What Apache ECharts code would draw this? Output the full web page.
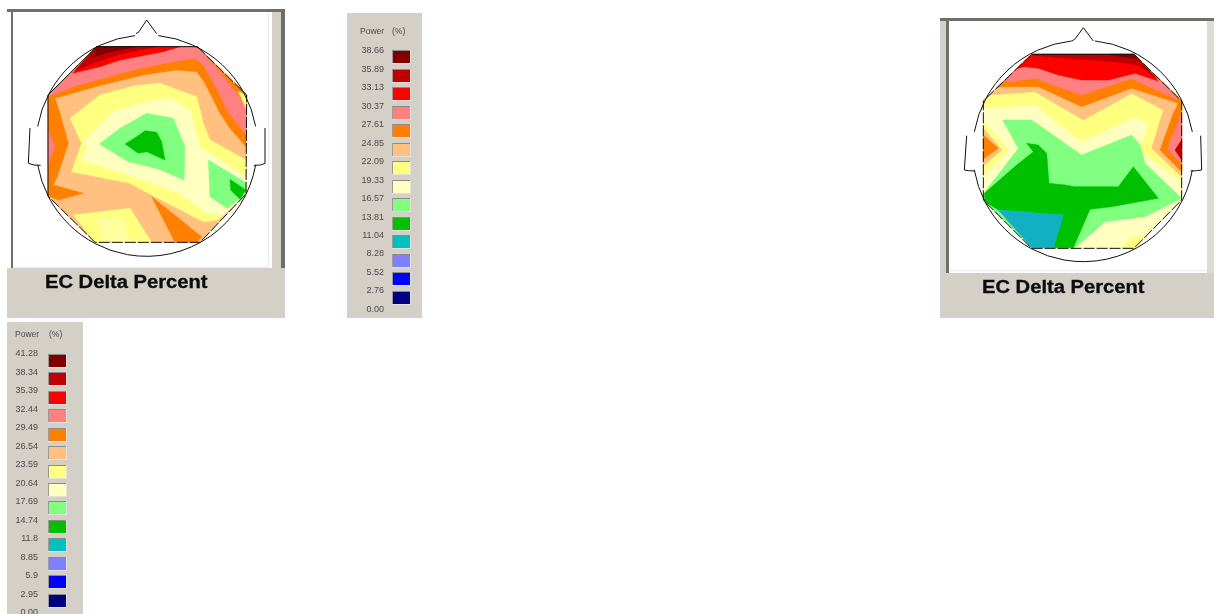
<!DOCTYPE html>
<html><head><meta charset="utf-8">
<style>html,body{margin:0;padding:0;background:#fff}#c{width:1214px;height:614px;filter:blur(0.45px)}</style>
<script src="https://cdn.jsdelivr.net/npm/echarts@6/dist/echarts.min.js"></script>
</head><body><div id="c"></div>
<script>
// ---- Scale colours and tick labels ----
const scaleColors = ['#800000','#c00000','#ff0000','#ff8080','#ff8000','#ffc080','#ffff80','#ffffc0','#80ff80','#00c000','#00c0c0','#8080ff','#0000ff','#000080'];
const ticksA = ['38.66','35.89','33.13','30.37','27.61','24.85','22.09','19.33','16.57','13.81','11.04','8.28','5.52','2.76','0.00'];
const ticksB = ['41.28','38.34','35.39','32.44','29.49','26.54','23.59','20.64','17.69','14.74','11.8','8.85','5.9','2.95','0.00'];
const mapTitle = 'EC Delta Percent';

// ---- Left map contours (map units) ----
const aOctagon = [[290,140],[592,140],[740,285],[738,582],[600,727],[285,727],[144,588],[144,285]];
const aOrange = [[144,285],[290,140],[592,140],[740,285],[738,440],[690,385],[660,340],[615,250],[590,215],[530,210],[430,225],[305,255],[165,295],[180,340],[205,430],[172,530],[144,530]];
const aSalmon = [[144,285],[290,140],[592,140],[650,205],[715,285],[738,325],[738,405],[680,330],[660,285],[610,195],[585,175],[520,185],[420,205],[310,235],[220,260],[150,288]];
const aSalmonLeft = [[144,390],[165,440],[144,492]];
const aCorner = [[715,275],[740,285],[738,325]];
const aRed = [[290,140],[540,140],[490,155],[360,180],[300,200],[218,220]];
const aDarkRed = [[290,140],[470,140],[370,160],[290,185],[225,212]];
const aMaroon = [[292,140],[410,140],[330,155],[280,170]];
const aYellow = [[210,355],[300,285],[400,258],[480,250],[590,290],[610,370],[630,420],[738,480],[738,582],[655,660],[610,665],[455,585],[390,550],[215,515],[245,430]];
const aPale = [[250,425],[340,335],[440,305],[510,295],[570,330],[600,440],[738,530],[738,582],[668,645],[620,640],[540,580],[460,550],[370,520],[245,480],[262,445]];
const aGreen = [[298,432],[360,385],[440,340],[520,355],[555,440],[552,540],[470,505],[385,485]];
const aDkGreen = [[375,432],[410,410],[435,392],[470,397],[485,425],[495,480],[440,455],[415,460]];
const aGreen2 = [[625,480],[738,548],[738,582],[682,625],[630,590]];
const aDkGreen2 = [[690,538],[737,570],[720,598],[692,570]];
const aYellowLow = [[220,645],[390,625],[455,727],[285,727]];
const aPaleLow = [[290,655],[365,652],[390,725],[310,725]];
const aOrangeLow = [[455,590],[605,710],[592,727],[525,727]];
const aOrangeLeft = [[144,530],[172,530],[160,555],[250,580],[175,600],[144,588]];
const aHead = {c:[440,437], r:332};
const aNose = [[408,101],[417,95],[440,60],[470,101]];
const aEarL = [[90,384],[85,490],[102,495],[122,496]];
const aEarR = [[795,384],[795,490],[782,495],[762,496]];
const aSolid = [[144,588],[144,285],[290,140],[592,140]];
const aDashed = [[592,140],[740,285],[738,582],[600,727],[285,727],[144,588]];

// ---- Right map contours (map units) ----
const bOctagon = [[305,148],[612,148],[755,288],[755,585],[612,730],[305,730],[160,585],[160,288]];
const bYellowLeft = [[160,350],[235,435],[160,512]];
const bPeachLeft = [[160,370],[215,435],[160,482]];
const bOrangeLeft = [[160,390],[205,430],[160,462]];
const bYellow = [[160,288],[305,148],[612,148],[755,288],[755,525],[630,440],[655,355],[615,335],[455,410],[315,300],[165,310]];
const bPeach = [[160,288],[305,148],[612,148],[755,288],[755,515],[665,430],[700,315],[605,265],[460,345],[315,260],[175,270]];
const bOrange = [[198,250],[305,148],[612,148],[755,288],[755,500],[690,435],[730,325],[745,295],[605,250],[455,305],[325,245],[210,245]];
const bSalmon = [[225,225],[305,148],[612,148],[745,285],[605,220],[455,270],[315,220],[240,230]];
const bSalmonRight = [[755,325],[712,432],[755,478]];
const bRed = [[262,190],[305,148],[612,148],[685,228],[615,205],[535,225],[455,225],[385,210],[325,190],[285,185]];
const bRedRight = [[755,405],[735,435],[755,465]];
const bDarkRed = [[305,148],[612,148],[680,220],[625,180],[555,170],[435,162],[315,152]];
const bMaroon = [[540,148],[612,148],[622,160],[590,158]];
const bYellowLow = [[575,730],[612,730],[645,695],[605,695]];
const bGreen = [[218,345],[305,345],[455,450],[605,390],[630,420],[645,475],[755,580],[645,635],[525,650],[435,728],[305,728],[160,585],[165,560],[265,430]];
const bDkGreen = [[290,415],[325,420],[350,445],[357,535],[405,540],[435,545],[565,545],[610,485],[685,580],[545,605],[480,613],[430,728],[370,728],[400,630],[205,615],[165,590],[163,565],[260,480],[310,440]];
const bTeal = [[205,615],[400,630],[370,728],[305,728]];
const bHead = {c:[460,438], r:332};
const bNose = [[426,108],[436,101],[460,68],[490,108]];
const bEarL = [[110,392],[103,495],[115,497],[135,498]];
const bEarR = [[812,392],[815,495],[800,497],[782,498]];
const bDashed = [[612,148],[755,288],[755,585],[612,730],[305,730],[160,585],[160,288],[305,148]];
const bSolid = [[305,148],[612,148]];

const headArcs = [[-84,-10],[10,170],[190,264]];
const C = {maroon:scaleColors[0],dred:scaleColors[1],red:scaleColors[2],salmon:scaleColors[3],orange:scaleColors[4],peach:scaleColors[5],yellow:scaleColors[6],pale:scaleColors[7],green:scaleColors[8],dkgreen:scaleColors[9],teal:'#12b0c2'};

const aLayers = [[C.peach,aOctagon],[C.orange,aOrange],[C.salmon,aSalmon],[C.salmon,aSalmonLeft],[C.yellow,aCorner],[C.red,aRed],[C.dred,aDarkRed],[C.maroon,aMaroon],
 [C.yellow,aYellow],[C.pale,aPale],[C.green,aGreen],[C.dkgreen,aDkGreen],[C.green,aGreen2],[C.dkgreen,aDkGreen2],[C.yellow,aYellowLow],['#ffffa0',aPaleLow],[C.orange,aOrangeLow],[C.orange,aOrangeLeft]];
const bLayers = [[C.pale,bOctagon],[C.yellow,bYellowLow],[C.yellow,bYellowLeft],[C.peach,bPeachLeft],[C.orange,bOrangeLeft],[C.yellow,bYellow],[C.peach,bPeach],[C.orange,bOrange],[C.salmon,bSalmon],[C.salmon,bSalmonRight],[C.red,bRed],[C.dred,bRedRight],[C.dred,bDarkRed],[C.maroon,bMaroon],
 [C.green,bGreen],[C.dkgreen,bDkGreen],[C.teal,bTeal]];

const mapSeries = (gi, layers, head, lines, solid, dashed) => [{
  type:'custom', xAxisIndex:gi, yAxisIndex:gi, silent:true, clip:false, animation:false,
  data:layers.map((_,i)=>[i]),
  renderItem:(p,api)=>{const l=layers[p.dataIndex];
    return {type:'polygon',shape:{points:l[1].map(q=>api.coord(q))},style:{fill:l[0],stroke:l[0],lineWidth:0.5}};}
},{
  type:'custom', xAxisIndex:gi, yAxisIndex:gi, silent:true, clip:false, animation:false, z:5,
  data:[[0]],
  renderItem:(p,api)=>{
    const ink={stroke:'#111',fill:null,lineWidth:1};
    const c=api.coord(head.c), r=api.size([head.r,0])[0];
    const kids=headArcs.map(a=>({type:'arc',shape:{cx:c[0],cy:c[1],r:r,startAngle:a[0]*Math.PI/180,endAngle:a[1]*Math.PI/180,clockwise:true},style:Object.assign({},ink)}));
    lines.forEach(l=>kids.push({type:'polyline',shape:{points:l.map(q=>api.coord(q))},style:Object.assign({},ink)}));
    kids.push({type:'polyline',shape:{points:solid.map(q=>api.coord(q))},style:Object.assign({},ink)});
    kids.push({type:'polyline',shape:{points:dashed.map(q=>api.coord(q))},style:Object.assign({lineDash:[11,2]},ink)});
    return {type:'group',children:kids};
  }
}];

const scaleSeries = (gi, ticks, xLabel, xSwatch) => [{
  type:'custom', xAxisIndex:gi, yAxisIndex:gi, silent:true, clip:false, animation:false,
  data:ticks.map((t,i)=>[i,t]),
  renderItem:(p,api)=>{const pt=api.coord([xLabel,api.value(0)]);
    return {type:'text',x:pt[0],y:pt[1],style:{text:ticks[p.dataIndex],fill:'#4a4a4a',font:'9px "Liberation Sans"',align:'right',verticalAlign:'middle'}};}
},{
  type:'custom', xAxisIndex:gi, yAxisIndex:gi, silent:true, clip:false, animation:false,
  data:scaleColors.map((c,i)=>[i+0.36]),
  renderItem:(p,api)=>{const pt=api.coord([xSwatch,api.value(0)]), w=17, h=12, x=pt[0], y=Math.round(pt[1]-h/2);
    return {type:'group',children:[
      {type:'rect',shape:{x:x-1,y:y-1,width:w+2,height:h+2},style:{fill:'#e3e1dc'}},
      {type:'rect',shape:{x:x-1,y:y-1,width:w+1,height:1},style:{fill:'#8c8a84'}},
      {type:'rect',shape:{x:x-1,y:y-1,width:1,height:h+1},style:{fill:'#9c9a94'}},
      {type:'rect',shape:{x:x,y:y,width:w,height:h},style:{fill:scaleColors[p.dataIndex]}}
    ]};}
}];

const plain = {show:false,type:'value'};
const rowStep = 18.48;
const small = {fontFamily:'Liberation Sans',fontWeight:'normal',fontSize:8.5,color:'#4a4a4a'};
const bigText = (x,y)=>({type:'text',x:x,y:y,scaleX:1.12,z:10,style:{text:mapTitle,fill:'#0c0c0c',stroke:'#0c0c0c',lineWidth:0.3,font:'bold 18px "Liberation Sans"',verticalAlign:'middle'}});
const option = {
  animation:false, backgroundColor:'#fff',
  title:[
    {text:'Power',left:360,top:27,padding:0,textStyle:small},
    {text:'(%)',left:392,top:27,padding:0,textStyle:small},
    {text:'Power',left:15,top:330,padding:0,textStyle:small},
    {text:'(%)',left:49,top:330,padding:0,textStyle:small}
  ],
  graphic:[
    // left map frame
    {type:'rect',shape:{x:7,y:268,width:278,height:50},style:{fill:'#d4d0c8'}},
    {type:'rect',shape:{x:7,y:9,width:278,height:3},style:{fill:'#6f6f6b'}},
    {type:'rect',shape:{x:11,y:12,width:2,height:256},style:{fill:'#6f6f6b'}},
    {type:'rect',shape:{x:272,y:12,width:9,height:256},style:{fill:'#d4d0c8'}},
    {type:'rect',shape:{x:268,y:12,width:1,height:256},style:{fill:'#ecebe8'}},
    {type:'rect',shape:{x:13,y:267,width:256,height:1},style:{fill:'#ecebe8'}},
    {type:'rect',shape:{x:281,y:9,width:4,height:259},style:{fill:'#6f6f6b'}},
    bigText(45,283),
    // right map frame
    {type:'rect',shape:{x:940,y:273,width:274,height:45},style:{fill:'#d4d0c8'}},
    {type:'rect',shape:{x:940,y:18,width:274,height:3},style:{fill:'#6f6f6b'}},
    {type:'rect',shape:{x:940,y:21,width:6,height:252},style:{fill:'#d4d0c8'}},
    {type:'rect',shape:{x:946,y:21,width:3,height:252},style:{fill:'#6f6f6b'}},
    {type:'rect',shape:{x:1207,y:21,width:7,height:252},style:{fill:'#dedbd5'}},
    {type:'rect',shape:{x:949,y:270,width:258,height:1},style:{fill:'#ecebe8'}},
    bigText(982,288)
  ],
  grid:[
    {left:0,top:0,width:300,height:320,show:false},
    {left:930,top:5,width:284,height:320,show:false},
    {left:347,top:13,width:75,height:305,show:true,backgroundColor:'#d4d0c8',borderWidth:0},
    {left:7,top:322,width:76,height:292,show:true,backgroundColor:'#d4d0c8',borderWidth:0}
  ],
  xAxis:[
    {...plain,gridIndex:0,min:0,max:900},
    {...plain,gridIndex:1,min:0,max:852},
    {...plain,gridIndex:2,min:0,max:75},
    {...plain,gridIndex:3,min:0,max:76}
  ],
  yAxis:[
    {...plain,gridIndex:0,min:0,max:960,inverse:true},
    {...plain,gridIndex:1,min:0,max:960,inverse:true},
    {...plain,gridIndex:2,min:(13-50.7)/rowStep,max:(318-50.7)/rowStep,inverse:true},
    {...plain,gridIndex:3,min:(322-354)/rowStep,max:(614-354)/rowStep,inverse:true}
  ],
  series:[
    ...mapSeries(0,aLayers,aHead,[aNose,aEarL,aEarR],aSolid,aDashed),
    ...mapSeries(1,bLayers,bHead,[bNose,bEarL,bEarR],bSolid,bDashed),
    ...scaleSeries(2,ticksA,37,46),
    ...scaleSeries(3,ticksB,31,42)
  ]
};
echarts.init(document.getElementById('c'),null,{renderer:'canvas'}).setOption(option);
</script></body></html>
